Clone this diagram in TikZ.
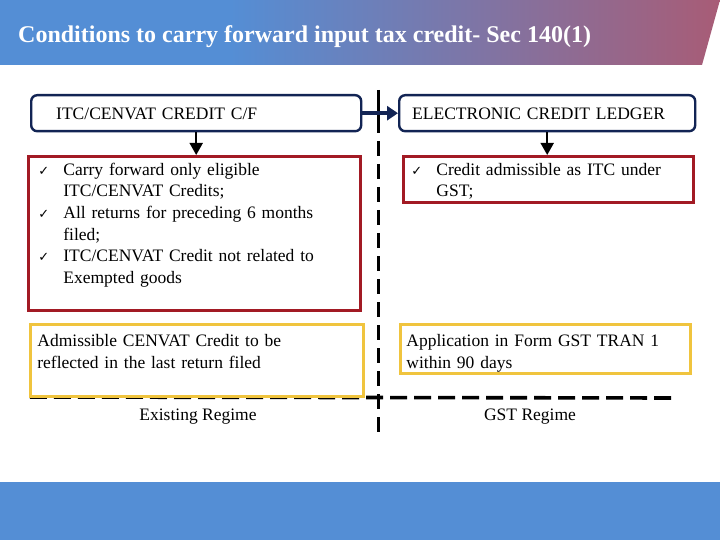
\documentclass[tikz,border=0pt]{standalone}
\usepackage{fontspec}
\setmainfont{Liberation Serif}
\newfontfamily\ckfont{DejaVu Sans}
\usepackage{xcolor}
\usetikzlibrary{arrows.meta, positioning, calc}
\definecolor{mynavy}{RGB}{18,36,84}
\definecolor{myred}{RGB}{162,26,36}
\definecolor{mygold}{RGB}{240,196,62}
\definecolor{hdrblue}{RGB}{84,142,213}
\definecolor{hdrmauve}{RGB}{168,92,118}
\newcommand{\ckitem}[1]{\noindent\hangindent=25pt\hangafter=1%
  \makebox[25pt][l]{\ckfont\fontsize{13}{13}\selectfont ✓}#1\par}
\tikzset{
  bodytext/.style={font=\fontsize{17.5}{21.6}\selectfont},
  navybox/.style={rectangle, draw=mynavy, fill=white, anchor=north west,
    rounded corners=6pt, line width=2.4pt, inner ysep=0pt,
    align=left, bodytext},
  redbox/.style={rectangle, draw=myred, anchor=north west,
    line width=2.8pt, inner ysep=0pt, align=left, bodytext},
  goldbox/.style={rectangle, draw=mygold, anchor=north west,
    line width=2.8pt, inner ysep=0pt, align=left, bodytext},
  bigarrow/.style={-{Triangle[length=11pt,width=14pt]}, line width=4pt, color=mynavy},
  downarrow/.style={-{Triangle[length=12pt,width=13pt]}, line width=1.8pt, color=black},
  divider/.style={line width=3pt, dash pattern=on 15pt off 8pt, color=black}
}
\begin{document}
\begin{tikzpicture}[x=1pt, y=-1pt]
  \useasboundingbox (0,0) rectangle (720,540);
  \fill[white] (0,0) rectangle (720,540);

  % Header and footer bands
  \fill[hdrblue] (0,0) rectangle (231,65);
  \shade[left color=hdrblue, right color=hdrmauve]
    (230,0) -- (720,0) -- (702,65) -- (230,65) -- cycle;
  \fill[hdrblue] (0,482) rectangle (720,540);
  \node[anchor=base west, text=white, inner sep=0pt,
    font=\fontsize{24}{28}\selectfont\bfseries] (title) at (18,43)
    {Conditions to carry forward input tax credit- Sec 140(1)};

  % Dividers
  \coordinate (vtop) at (378,90);
  \coordinate (vmid) at (378,141);
  \coordinate (vbot) at (378,432);
  \coordinate (hleft) at (30,397);
  \coordinate (hright) at (676,398);
  \draw[line width=3pt] (vtop) -- ($(vtop)+(0,43)$);
  \draw[divider] (vmid) -- (vbot);
  \draw[divider, line width=3.6pt, dash pattern=on 17pt off 7pt] (hleft) -- (hright);

  % Top boxes
  \node[navybox, text width=280pt, inner xsep=25pt, text height=24.5pt, text depth=11.5pt]
    (itc) at (30,94) {ITC/CENVAT CREDIT C/F};
  \node[navybox, text width=270pt, inner xsep=13pt, text height=24.5pt, text depth=11.5pt]
    (ecl) at (398,94) {ELECTRONIC CREDIT LEDGER};

  % Condition boxes
  \node[redbox, text width=312pt, inner xsep=10pt, text height=19pt, text depth=135pt]
    (condold) at (27,155) {%
      \ckitem{Carry forward only eligible\newline ITC/CENVAT Credits;}%
      \ckitem{All returns for preceding 6 months\newline filed;}%
      \ckitem{ITC/CENVAT Credit not related to\newline Exempted goods}};
  \node[redbox, text width=274pt, inner xsep=8pt, text height=19pt, text depth=27pt]
    (condnew) at (402,155) {%
      \ckitem{Credit admissible as ITC under\newline GST;}};

  % Procedure boxes
  \node[goldbox, text width=319pt, inner xsep=7pt, text height=22pt, text depth=50pt]
    (procold) at (29,323) {Admissible CENVAT Credit to be\\reflected in the last return filed};
  \node[goldbox, text width=278pt, inner xsep=6pt, text height=22pt, text depth=27pt]
    (procnew) at (399,323) {Application in Form GST TRAN 1\\within 90 days};

  % Regime labels
  \node[bodytext] (oldregime) at (198,417) {Existing Regime};
  \node[bodytext] (newregime) at (530,417) {GST Regime};

  % Arrows
  \draw[bigarrow] (itc.east) -- (ecl.west);
  \draw[downarrow] (itc.south) -- (itc.south |- condold.north);
  \draw[downarrow] (ecl.south) -- (ecl.south |- condnew.north);
\end{tikzpicture}
\end{document}
